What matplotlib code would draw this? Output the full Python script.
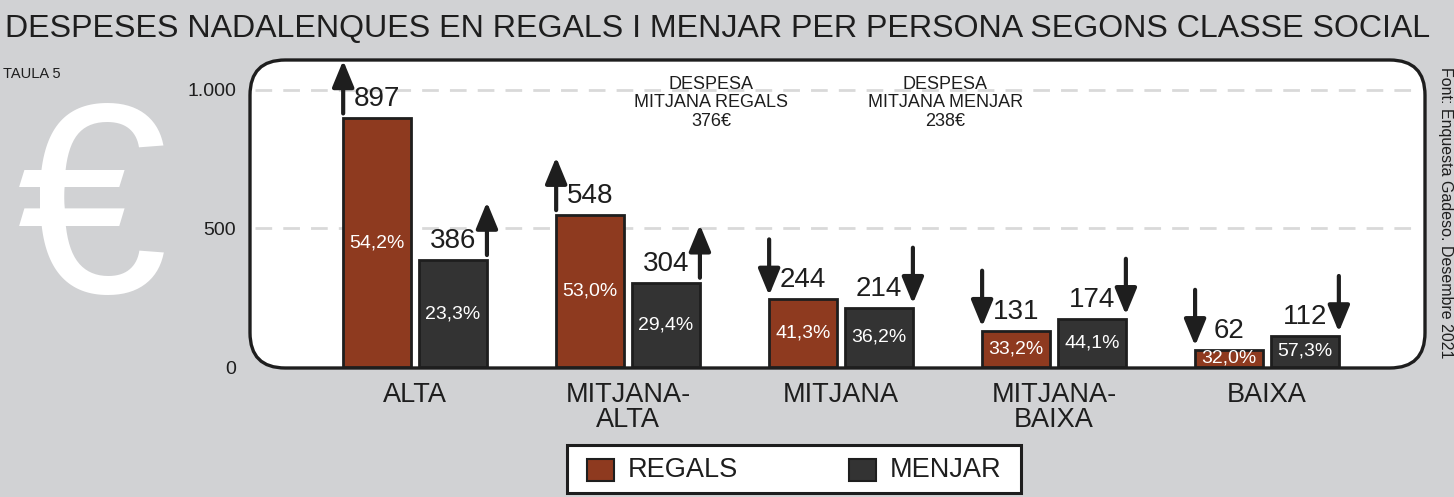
import matplotlib
matplotlib.use("Agg")
import matplotlib.pyplot as plt
from matplotlib.patches import FancyBboxPatch, Rectangle

plt.rcParams['font.family'] = ['Liberation Sans', 'DejaVu Sans']

classes = ['ALTA', 'MITJANA-\nALTA', 'MITJANA', 'MITJANA-\nBAIXA', 'BAIXA']
regals = [897, 548, 244, 131, 62]
menjar = [386, 304, 214, 174, 112]
regals_pct = ['54,2%', '53,0%', '41,3%', '33,2%', '32,0%']
menjar_pct = ['23,3%', '29,4%', '36,2%', '44,1%', '57,3%']
mitjana_regals = 376
mitjana_menjar = 238
series = ['REGALS', 'MENJAR']

bg = '#d1d2d4'
brown = '#8e3a1f'
dark = '#333333'
ink = '#1e1e1e'

fig = plt.figure(figsize=(14.54, 4.97), dpi=100, facecolor=bg)
W, H = 1454, 497
ax = fig.add_axes([250 / W, 129 / H, 1175 / W, 308 / H])
ax.set_facecolor('none')
ymin, ymax = -3.6, 1108
ax.set_ylim(ymin, ymax)
ax.set_xlim(-0.775, 4.742)
pxd = (ymax - ymin) / 308  # one pixel in data units

# rounded white panel
panel = FancyBboxPatch((0, 0), 1, 1, boxstyle='round,pad=0,rounding_size=0.03',
                       mutation_aspect=1175 / 308, transform=ax.transAxes,
                       facecolor='white', edgecolor=ink, lw=2.4, zorder=0, clip_on=False)
ax.add_patch(panel)

for yv in [500, 1000]:
    ax.axhline(yv, xmin=0.004, xmax=0.996, color='#d9d9d9', lw=2, dashes=(6, 4), zorder=1)
for s in ax.spines.values():
    s.set_visible(False)

ax.set_yticks([0, 500, 1000])
ax.set_yticklabels(['0', '500', '1.000'], fontsize=14, color=ink)
ax.tick_params(axis='y', length=0, pad=10)
ax.set_xticks(range(len(classes)))
ax.set_xticklabels(classes, fontsize=19.5, color=ink, linespacing=0.95)
ax.tick_params(axis='x', length=0, pad=10)

w = 0.319
off = 0.178
xr = [i - off for i in range(len(classes))]
xm = [i + off for i in range(len(classes))]
ax.bar(xr, regals, w, color=brown, edgecolor=ink, lw=2, zorder=2)
ax.bar(xm, menjar, w, color=dark, edgecolor=ink, lw=2, zorder=2)


def arrow(x, v, up):
    if up:
        tail, tip = v + 5 * pxd, v + 58 * pxd
    else:
        tail, tip = v + 60 * pxd, v + 4 * pxd
    ax.annotate('', xy=(x, tip), xytext=(x, tail),
                arrowprops=dict(arrowstyle='-|>,head_length=0.8,head_width=0.33',
                                lw=3, color=ink, mutation_scale=20,
                                shrinkA=0, shrinkB=0), zorder=3)


for i in range(len(classes)):
    for x, v, pct, avg, edge in [(xr[i], regals[i], regals_pct[i], mitjana_regals, -1),
                                 (xm[i], menjar[i], menjar_pct[i], mitjana_menjar, 1)]:
        ax.text(x, v + 19 * pxd, str(v), ha='center', va='center', fontsize=20, color=ink, zorder=3)
        ax.text(x, v / 2, pct, ha='center', va='center', fontsize=14, color='white', zorder=3)
        arrow(x + edge * (w / 2), v, v > avg)

ax.text(1.39, 953, 'DESPESA\nMITJANA REGALS\n%d€' % mitjana_regals, ha='center', va='center',
        fontsize=13, color=ink, linespacing=1.1, zorder=3)
ax.text(2.49, 953, 'DESPESA\nMITJANA MENJAR\n%d€' % mitjana_menjar, ha='center', va='center',
        fontsize=13, color=ink, linespacing=1.1, zorder=3)

fig.text(5 / W, 1 - 29 / H, 'DESPESES NADALENQUES EN REGALS I MENJAR PER PERSONA SEGONS CLASSE SOCIAL',
         ha='left', va='center', fontsize=23.1, color=ink)
fig.text(3 / W, 1 - 74 / H, 'TAULA 5', ha='left', va='center', fontsize=10.5, color=ink)
fig.text(92 / W, 1 - 222 / H, '€', ha='center', va='center', fontsize=195, color='white')
fig.text(1445 / W, 1 - 213 / H, 'Font: Enquesta Gadeso. Desembre 2021', ha='center', va='center',
         rotation=270, fontsize=11.5, color=ink)

# legend box
fig.patches.append(Rectangle((567 / W, 1 - 493 / H), 454 / W, 48 / H, transform=fig.transFigure,
                             facecolor='white', edgecolor=ink, lw=2.2))
for name, col, px in [(series[0], brown, 587), (series[1], dark, 849)]:
    fig.patches.append(Rectangle((px / W, 1 - 481 / H), 27 / W, 22 / H, transform=fig.transFigure,
                                 facecolor=col, edgecolor=ink, lw=1.5))
    fig.text((px + 41) / W, 1 - 470 / H, name, ha='left', va='center', fontsize=19.5, color=ink)

fig.savefig('out.png', dpi=100, facecolor=bg)
